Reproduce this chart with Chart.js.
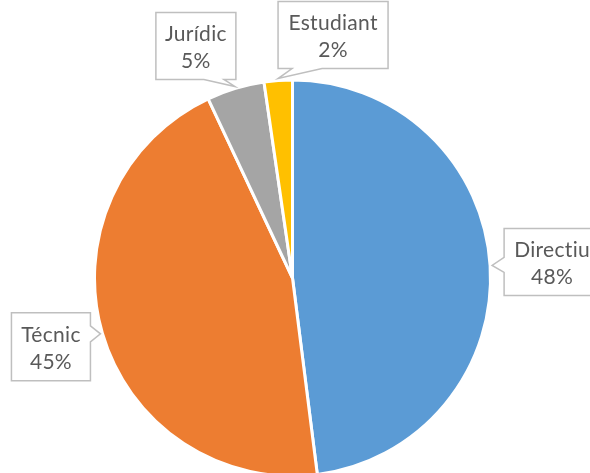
<!DOCTYPE html>
<html>
<head>
<meta charset="utf-8">
<script src="https://cdn.jsdelivr.net/npm/chart.js@4.4.1/dist/chart.umd.min.js"></script>
<style>
  html, body { margin: 0; padding: 0; background: #fff; overflow: hidden; }
  #wrap { width: 590px; height: 478px; position: relative; }
</style>
</head>
<body>
<div id="wrap"><canvas id="pie"></canvas></div>
<script>
// categories and shares (%)
const categories = ['Directiu', 'Técnic', 'Jurídic', 'Estudiant'];
const shares = [48.0, 45.0, 4.7, 2.3];
const shareLabels = ['48%', '45%', '5%', '2%'];
const colors = ['#5B9BD5', '#ED7D31', '#A5A5A5', '#FFC000'];

// callout boxes, placed relative to the tip on the slice edge
// side = which box edge carries the pointer, p0/p1 = pointer base along that edge
const callouts = [
    { dx: 12, dy: -37, w: 96, h: 67, side: 'left', p0: 29, p1: 44 },
    { dx: -89, dy: -21, w: 79, h: 68, side: 'right', p0: 13, p1: 29 },
    { dx: -79, dy: -74, w: 80, h: 67, side: 'bottom', p0: 48, p1: 68 },
    { dx: 0, dy: -77, w: 110, h: 67, side: 'bottom', p0: 14, p1: 44 }
];

const calloutPlugin = {
    id: 'callouts',
    afterDatasetsDraw(chart) {
        const ctx = chart.ctx;
        const arcs = chart.getDatasetMeta(0).data;
        arcs.forEach((arc, i) => {
            const { x, y, startAngle, endAngle, outerRadius } = arc.getProps(['x', 'y', 'startAngle', 'endAngle', 'outerRadius'], true);
            const mid = (startAngle + endAngle) / 2;
            const tx = x + Math.cos(mid) * (outerRadius + 2);
            const ty = y + Math.sin(mid) * (outerRadius + 2);
            const c = callouts[i];
            const L = tx + c.dx, T = ty + c.dy, R = L + c.w, B = T + c.h;

            const pts = [[L, T]];
            if (c.side === 'top') pts.push([L + c.p0, T], [tx, ty], [L + c.p1, T]);
            pts.push([R, T]);
            if (c.side === 'right') pts.push([R, T + c.p0], [tx, ty], [R, T + c.p1]);
            pts.push([R, B]);
            if (c.side === 'bottom') pts.push([L + c.p1, B], [tx, ty], [L + c.p0, B]);
            pts.push([L, B]);
            if (c.side === 'left') pts.push([L, T + c.p1], [tx, ty], [L, T + c.p0]);

            ctx.save();
            ctx.beginPath();
            pts.forEach((p, k) => k ? ctx.lineTo(p[0], p[1]) : ctx.moveTo(p[0], p[1]));
            ctx.closePath();
            ctx.fillStyle = '#fff';
            ctx.fill();
            ctx.lineWidth = 1.5;
            ctx.strokeStyle = '#BFBFBF';
            ctx.stroke();

            ctx.fillStyle = '#595959';
            ctx.font = '21px Lato, "Open Sans", sans-serif';
            ctx.letterSpacing = '0.3px';
            ctx.textAlign = 'center';
            ctx.textBaseline = 'middle';
            const cx = (L + R) / 2;
            ctx.fillText(categories[i], cx, T + 22);
            ctx.fillText(shareLabels[i], cx, T + 49);
            ctx.restore();
        });
    }
};

new Chart(document.getElementById('pie'), {
    type: 'pie',
    data: {
        labels: categories,
        datasets: [{
            data: shares,
            backgroundColor: colors,
            borderColor: '#fff',
            borderWidth: 3,
            hoverOffset: 0,
            offset: 0
        }]
    },
    options: {
        responsive: true,
        maintainAspectRatio: false,
        animation: false,
        events: [],
        layout: { padding: { top: 78, bottom: 0, left: 93, right: 98 } },
        plugins: {
            legend: { display: false },
            tooltip: { enabled: false }
        }
    },
    plugins: [calloutPlugin]
});
</script>
</body>
</html>
